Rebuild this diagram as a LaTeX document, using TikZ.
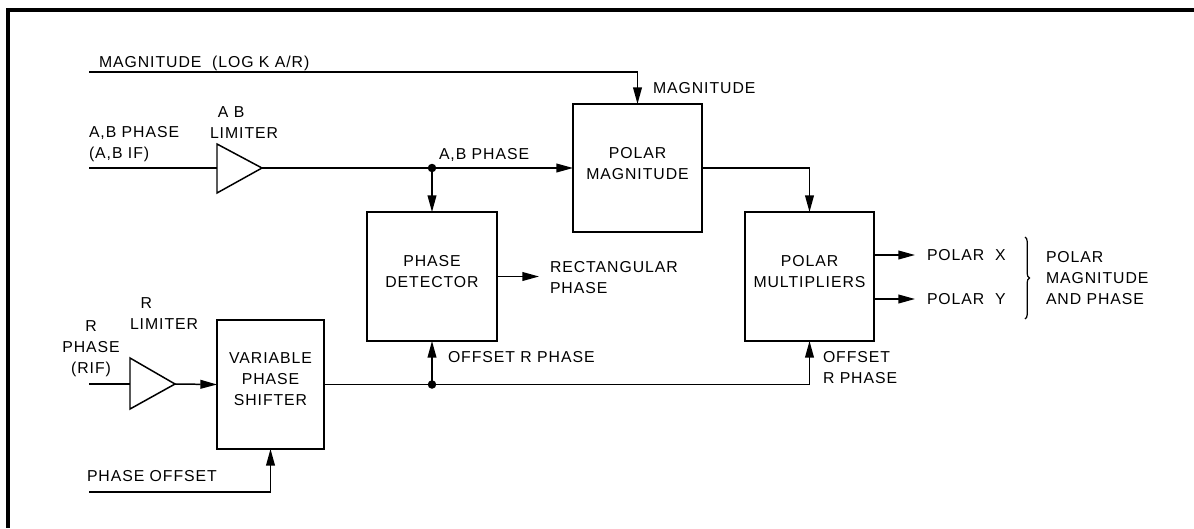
\documentclass[tikz,border=0pt]{standalone}
\usepackage{fontspec}
\setmainfont[LetterSpace=6]{Liberation Sans}
\usetikzlibrary{arrows.meta,decorations.pathreplacing}
\begin{document}
\begin{tikzpicture}[x=0.02cm,y=-0.02cm,
  every node/.style={inner sep=0pt, outer sep=0pt, font=\fontsize{9}{12}\selectfont},
  blk/.style={draw, line width=0.85pt, minimum height=2.58cm},
  lbl/.style={anchor=north west, align=left},
  ctr/.style={align=center},
  wire/.style={line width=0.85pt},
  arr/.style={wire, -{Triangle[length=9.5pt,width=5pt]}},
  lim/.style={line width=0.85pt, line join=miter},
  jdot/.style={circle, fill, minimum size=0.17cm}
]
\useasboundingbox (0,0) rectangle (1194,528);
\fill[white] (0,0) rectangle (1194,528);
% frame (top and left edges only)
\draw[line width=1.8pt] (1194,10) -- (8,10) -- (8,528);

% blocks
\node[blk, minimum width=2.58cm, minimum height=2.56cm] (pm) at (637.5,168) {};
\node[blk, minimum width=2.60cm] (pd) at (432,276.5) {};
\node[blk, minimum width=2.58cm] (mult) at (809.5,276.5) {};
\node[blk, minimum width=2.14cm] (vps) at (270.5,384.5) {};

% limiters
\draw[lim] (217,144) -- (262,168) -- (217,193) -- cycle;
\coordinate (abl-in) at (217,168);
\coordinate (abl-out) at (262,168);
\draw[lim] (130,358) -- (175,384) -- (130,409) -- cycle;
\coordinate (rl-in) at (130,384);
\coordinate (rl-out) at (175,384);

% free ends and junctions
\coordinate (magin) at (89,72);
\coordinate (abin) at (89,168);
\coordinate (rin) at (89,384);
\coordinate (offin) at (89,492);
\coordinate (jab) at (432,168);
\coordinate (jr) at (432,384.5);
\coordinate (rect) at (539,276.5);
\coordinate (px) at (915,255);
\coordinate (py) at (915,299);

% connectors
\draw[arr] (magin) -| (pm.north);
\draw[wire] (abin) -- (abl-in);
\draw[arr] (abl-out) -- (pm.west);
\draw[arr] (jab) -- (pd.north);
\draw[arr] (pm.east) -| (mult.north);
\draw[arr] (pd.east) -- (rect);
\draw[arr] (mult.east |- px) -- (px);
\draw[arr] (mult.east |- py) -- (py);
\draw[wire] (rin) -- (rl-in);
\draw[arr] (rl-out) -- (vps.west);
\draw[arr] (vps.east) -| (mult.south);
\draw[arr] (jr) -- (pd.south);
\draw[arr] (offin) -| (vps.south);
\node[jdot] (dab) at (jab) {};
\node[jdot] (dr) at (jr) {};

% brace
\draw[line width=0.7pt, decorate, decoration={brace, amplitude=2.5pt}] (1025,237) -- (1025,319);

% texts
\node[lbl] (tmag) at (99,56.5) {MAGNITUDE\ \ (LOG K A/R)};
\node[lbl] (tabin) at (89,126.5) {A,B PHASE\\(A,B IF)};
\node[lbl] (tabl) at (210,106.5) {\hspace*{4.5pt}A B\\LIMITER};
\node[lbl] (tabph) at (439,148.5) {A,B PHASE};
\node[lbl] (tmagin) at (653,82.5) {MAGNITUDE};
\node[ctr] (tpm) at (637.5,163.5) {POLAR\\MAGNITUDE};
\node[ctr] (tpd) at (432,272) {PHASE\\DETECTOR};
\node[lbl] (trect) at (550,261.5) {RECTANGULAR\\PHASE};
\node[ctr] (tmult) at (809.5,272) {POLAR\\MULTIPLIERS};
\node[lbl] (tpx) at (927,249.5) {POLAR\ \ X};
\node[lbl] (tpy) at (927,293.5) {POLAR\ \ Y};
\node[lbl] (tpol) at (1046,251.5) {POLAR\\MAGNITUDE\\AND PHASE};
\node[lbl] (trl) at (130,297.5) {\hspace*{6pt}R\\LIMITER};
\node[ctr, anchor=north] (trin) at (91,320.5) {R\\PHASE\\(RIF)};
\node[ctr] (tvps) at (270.5,379) {VARIABLE\\PHASE\\SHIFTER};
\node[lbl] (toff1) at (448,351.5) {OFFSET R PHASE};
\node[lbl] (toff2) at (823,351.5) {OFFSET\\R PHASE};
\node[lbl] (tphoff) at (87,470.5) {PHASE OFFSET};
\end{tikzpicture}
\end{document}
